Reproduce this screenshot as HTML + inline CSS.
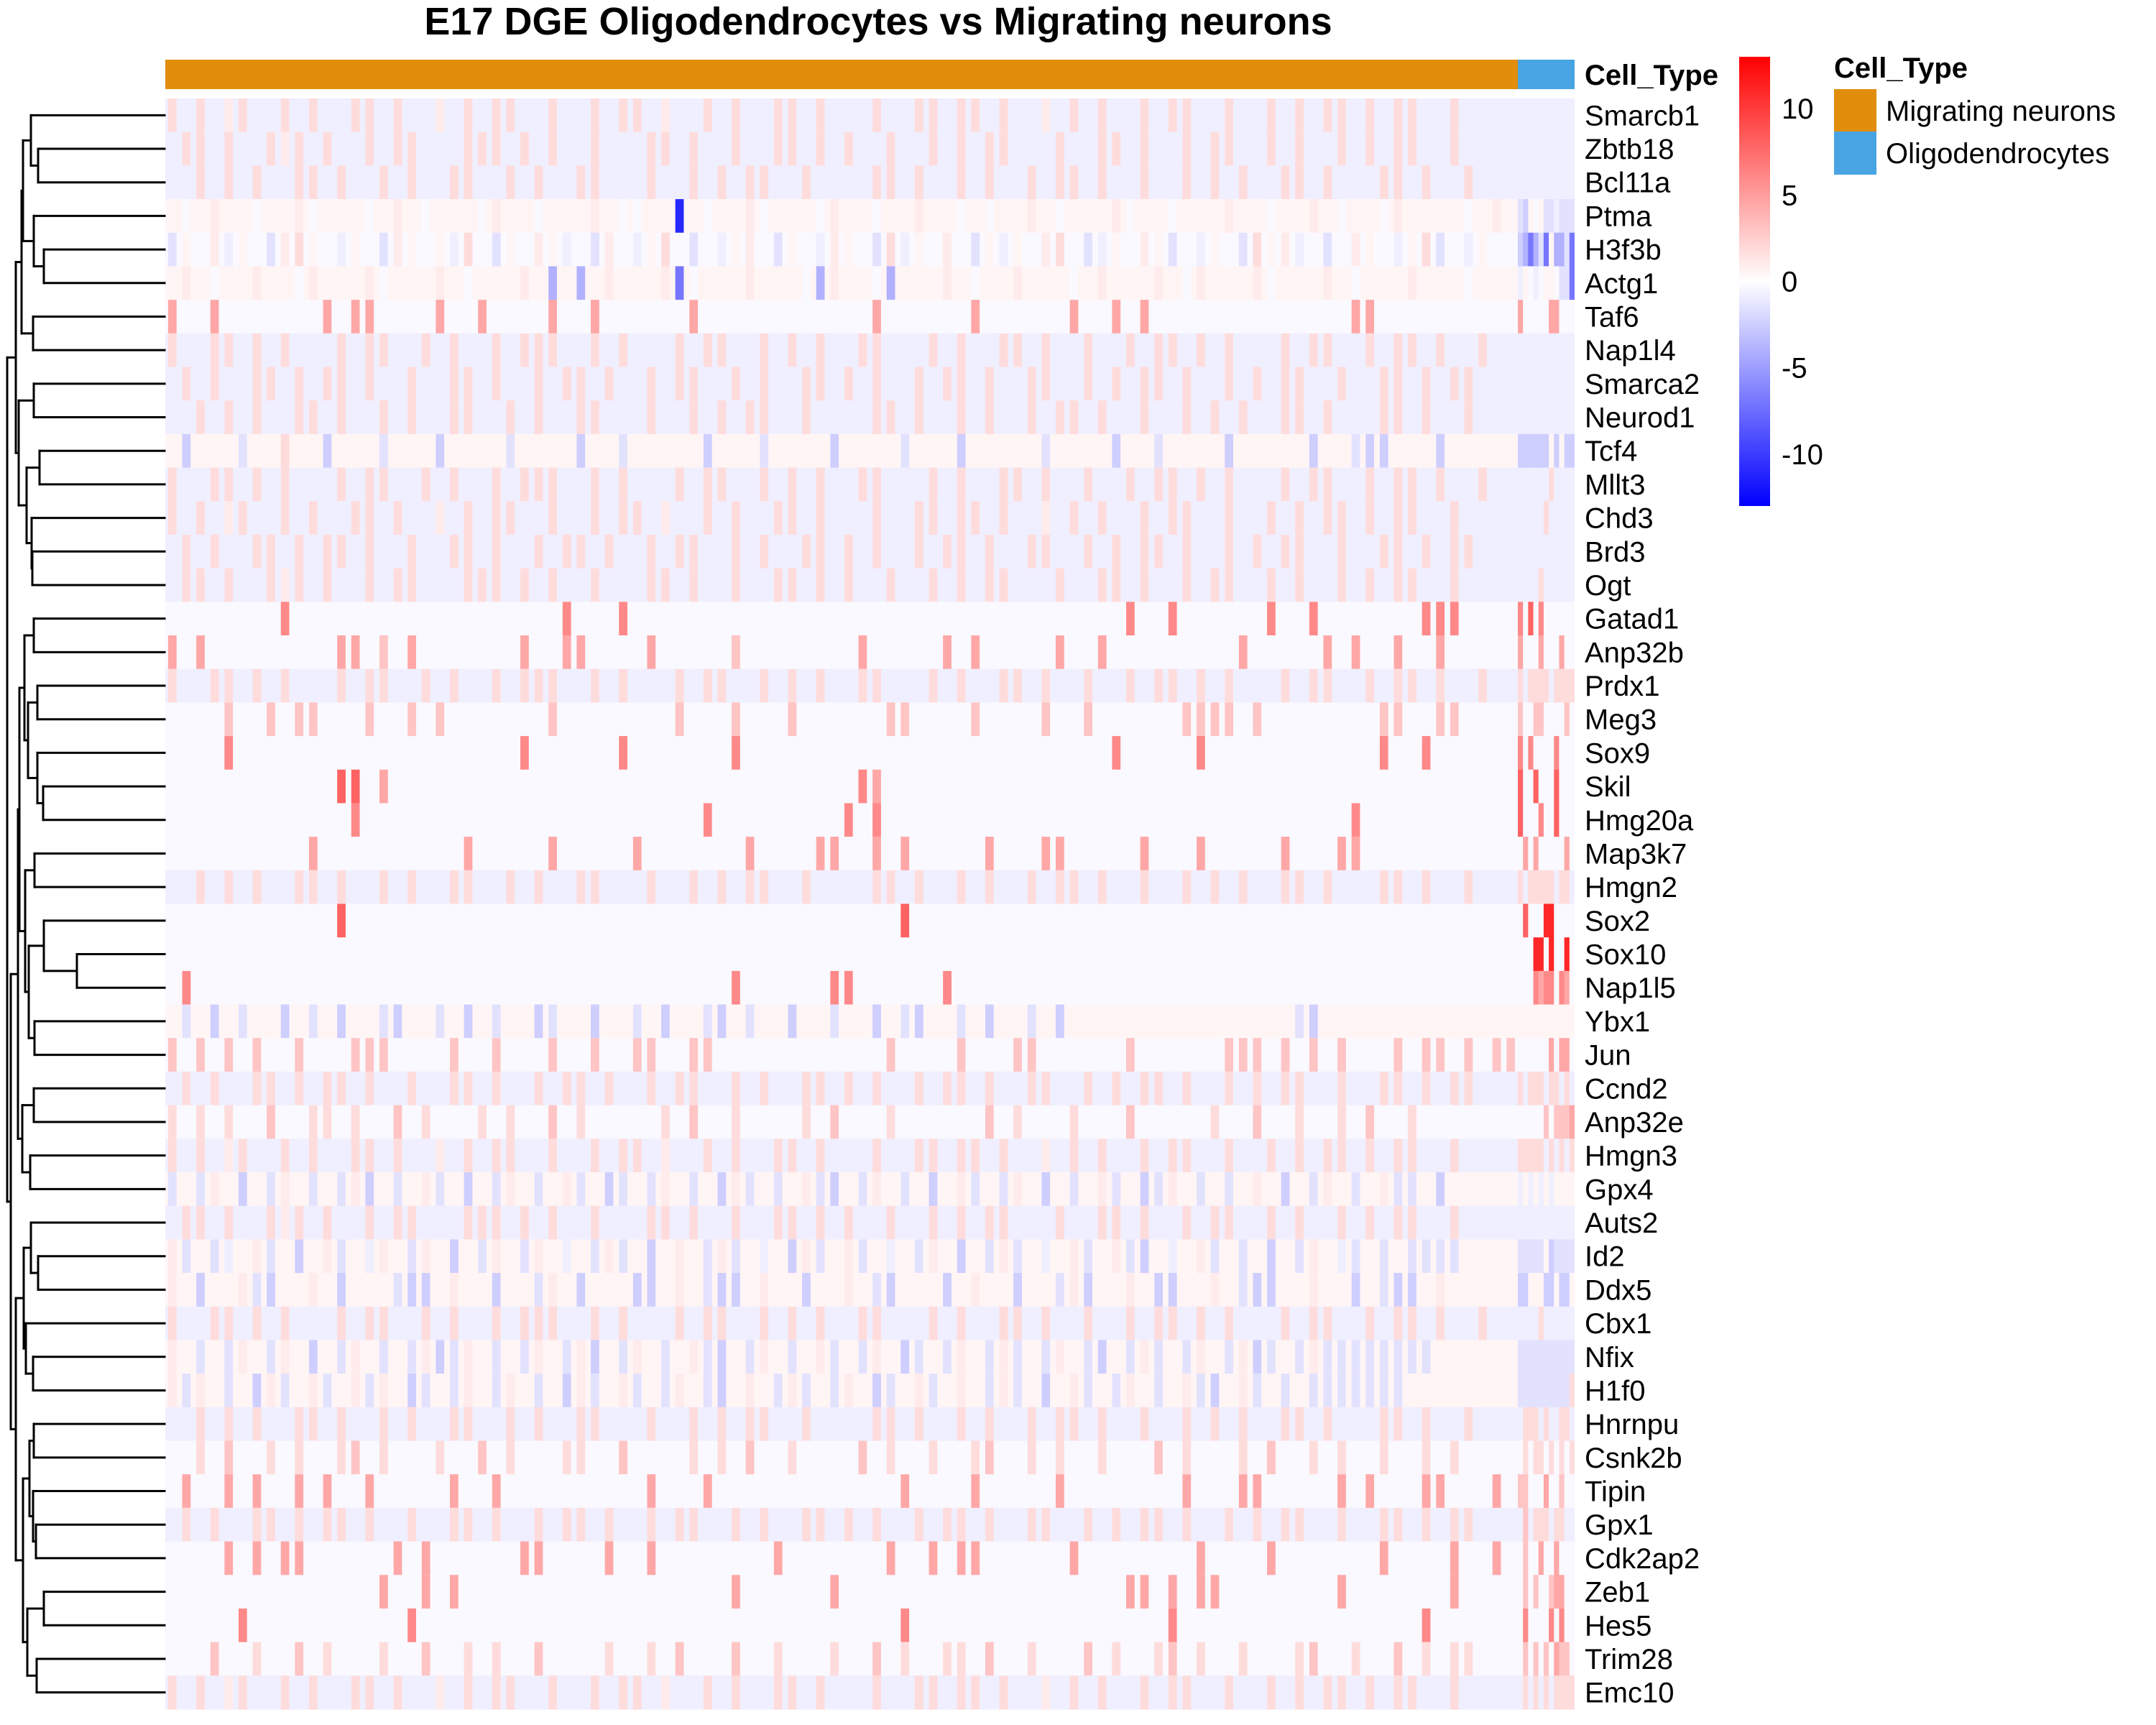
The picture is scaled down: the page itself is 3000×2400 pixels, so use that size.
<!DOCTYPE html>
<html><head><meta charset="utf-8">
<style>
html,body{margin:0;padding:0;background:#fff;}
svg{display:block;font-family:"Liberation Sans",Arial,sans-serif;}
</style></head>
<body>
<svg id="chart" width="3000" height="2400" viewBox="0 0 3000 2400" xmlns="http://www.w3.org/2000/svg">
<defs>
<linearGradient id="cbgrad" x1="0" y1="1" x2="0" y2="0">
<stop offset="0" stop-color="#0000ff"/><stop offset="0.5" stop-color="#ffffff"/><stop offset="1" stop-color="#ff0000"/>
</linearGradient>
</defs>
<text x="1222" y="48" font-size="54" font-weight="bold" text-anchor="middle">E17 DGE Oligodendrocytes vs Migrating neurons</text>
<g id="annot"></g>
<text x="2205" y="118" font-size="40" font-weight="bold">Cell_Type</text>
<g id="cells"></g>
<g id="labels"></g>
<g id="dendro"></g>
<rect x="2420" y="79" width="43" height="625" fill="url(#cbgrad)"/>
<g id="cbticks"></g>
<text x="2552" y="108" font-size="40" font-weight="bold">Cell_Type</text>
<rect x="2552" y="124" width="59" height="59" fill="#E08E0B"/>
<text x="2624" y="168" font-size="40">Migrating neurons</text>
<rect x="2552" y="183" width="59" height="60" fill="#48A4E2"/>
<text x="2624" y="227" font-size="40">Oligodendrocytes</text>
</svg>
<script>
const genes = ["Smarcb1","Zbtb18","Bcl11a","Ptma","H3f3b","Actg1","Taf6","Nap1l4","Smarca2","Neurod1","Tcf4","Mllt3","Chd3","Brd3","Ogt","Gatad1","Anp32b","Prdx1","Meg3","Sox9","Skil","Hmg20a","Map3k7","Hmgn2","Sox2","Sox10","Nap1l5","Ybx1","Jun","Ccnd2","Anp32e","Hmgn3","Gpx4","Auts2","Id2","Ddx5","Cbx1","Nfix","H1f0","Hnrnpu","Csnk2b","Tipin","Gpx1","Cdk2ap2","Zeb1","Hes5","Trim28","Emc10"];
const levelChars = "abcdefghijklmno";
const levelValues = [-11,-7,-4,-2.5,-1.5,-0.8,-0.3,0.5,1,1.8,3,4.5,6,8,11];
const colorTicks = [10,5,0,-5,-10];
const nNeuron = 96;
const nOligo = 11;
const rowBase = "fffhghgfffhffffggfgggggfggghgfgfhfhhfhhfggfggggf";
const nA="j.j.ij..j.j..jj.j..i.j.jj..j..j.jj.i..j.j..jj.j...j..jj.jj.j..i.j.j..j.jj..j..j.j.jj.j.jj..j....";
const nB=".jj.j..jij.j..j.jj...jjj.j.j..j...jj.j..j..jj.j.j..j..j.j.jj...j..jj.j..j.jj..j.j..j.j.jj..j.....";
const nC="..j.j.j..jj.j..j.j..jj..j.j..jj...j..j.j.jj..j....jj.j..j.j..j.jj.j..j..j.j.j..jj.j...jj.j..j....";
const nD="j..jj.j.j...j.jj..j.j..j.jjj..j.j...j.jj..j.j.j..jj...j.j..jj.j..j..j.jj.j.j...j.jj..j.jj.j..j...";
const nE=".j.j..jj.j.jj.j..j..jj.j..j.jj.j..j.jj..j.j..jj.j.j..j.jj.j..jj..j.j.jj.j..j.j.jj..j..jj.j.jj...j";
const rowNoise = [nA,nB,nC,
"hghih.ghhig.hhghihg.hhgihhg.hhihgghhhhghhigh.hgihhg.hihhg.ghhihg.hhighhgh.hihhg.hihghhgih.hhghih",
"ehgifhgeijhgfhgeihghfjgehgihfgeigfhjgegfhigehgfihgejfhgigehfhgijgefhgihegfhgejhifgegihgfhjegfhg",
"hihghhihhgihhhighhhihghhhihhhghihhhihghhhihhhghihhgihhhihghhihhhghihhhihgihhhighhhihghhhihhhghhh",
"",nD,nE,nC,
"hdhhhehhjhhdhhhehhhdhhhhehhhhdhhehhhhhdhhhehhhhdhhhhehhhdhhhhhehhhhdhhehhhhdhhhhhdhheddhhhdhhhh",
nD,nA,nE,nB,"","",nD,"","","","","",nC,"","","",
"hehdhehhdhehdhhedhhehdhehhdehhdhhehdhhedhehhdhhehhdhedhhehdhhehdhhhhhhhhhhhhhhhhedhhhhhhhhh",
"",nE,
"j.j.j..k..jj.j..k.j...j.j..k.j.....j.k..j....j.k...j......k.j...j...k.....j..k..j..j.k..j......",
nA,
"eheihdheiheheidhehiehdheihehiehdeheihehdiehehiedheihehdhieheihdhehiehdeihehehihdheihehieehdhh",
nB,
"iehefhiehdhiehfiheihdheiheihfheiehdhiheiehfhdiehiehfheihdheiehfhiehiedhfhiehehdheihfeheheeee",
"ihdhhiedhhihdhhheddhihhdhheihdhhhddhiheddhihhdhhihedhhhdhihhdhheidhhihddhhiheddhhihhdheddhih",
nD,
"iheheiheihdheiheheideiheheiheidheihehiedheihehieheihdeheiheieheihedheieheiheideheieeeeeeee",
"ieihehdiehiehieihdeheiheihehdiehieheihedhiheieheihdehiehiheiehdhieheihehiedhieheheeeeeee",
nC,
"..j.k..j.j..jk.j...j..k.j...jj..k....j.j.k..j....k.j..j..jk..j.j..j...k.j...j.k..j.j..j..j.j....",
"",nE,"","","",
"...k..j..k.j...j..k..j.j..k....j..j.k...k..j...j..k.j..jj.k..j...k.j..jk.j..j...jk..j..k.j.jj...",
nA];
const rowHits = ["","","","36a","","27c 29c 36b 46c 51c",
"0l 3l 11l 13l 14l 19l 22l 27l 30l 37l 50l 57l 64l 67l 69l 84l 85l",
"","","","","","","","",
"8m 28m 32m 68m 71m 78m 81m 89m 90m 91m",
"0l 2l 12l 13l 15k 17l 25l 28l 29l 34l 40k 49l 55l 57l 63l 66l 76l 82l 84l 87l 90l",
"",
"4k 7k 9k 10k 14k 17k 19k 27k 36k 40k 44k 51k 52k 57k 62k 65k 72k 73k 74k 75k 77k 86k 87k 90k 91k",
"4m 25m 32m 40m 67m 73m 86m 89m",
"12n 13n 15l 49m 50l",
"13m 38m 48m 50m 84m",
"10l 21l 27l 33l 41l 46l 47l 50l 52l 58l 62l 63l 69l 73l 79l 83l 84l",
"","12n 52n","","1m 40m 47m 48m 55m","",
"0k 2k 4k 6k 9k 13k 14k 15k 20k 23k 27k 30k 33k 34k 37k 38k 51k 56k 60k 61k 68k 75k 76k 77k 79k 81k 83k 87k 89k 90k 92k 94k 95k",
"","","","","","","","","","","","",
"1l 4l 6l 9l 11l 14l 20l 23l 34l 38l 52l 57l 63l 72l 76l 77l 83l 85l 89l 90l 94l",
"",
"4l 6l 8l 9l 16l 18l 25l 26l 31l 34l 43l 51l 54l 56l 57l 64l 73l 78l 86l 91l 94l",
"15l 18l 20l 40l 47l 68l 69l 71l 73l 74l 83l 91l",
"5m 17m 52m 71m 89m",
"",""];
const oligoVals = ["fffffffffff","fffffffffff","fffffffffff","edhgheefeee","dcbcebhcceb","fhgfghhgeeb","lgggggllggg","fffffffffff","fffffffffff","fffffffffff","ddddddhdhdd","ffffffjffff","fffffjfffff","fffffffffff","ffffjffffff","mgngmgggggg","lggglggglgg","jfjjjjfjjjj","kggkkggggkg","mgmggggmggg","nggngggnggg","ngggmggnggg","glglggggglg","jfjjjjjfjjf","gngggoogggg","gggoogoggog","gggmlmmgmlg","hhhhhhhhhhh","gggggglgllg","jfjjjfjjfjf","gggggkgkkkl","jjjjjfjfjfj","fhfhfhfhhhh","fffffffffff","eeeeehdeeee","ddhhhddhddh","ffffjffffff","eeeeeeeeeee","eeeeeeeeeej","fjjjfjffjjf","gjgjjgjgjgj","kkggglggkgg","fkfjjjfjjff","gkgglgglggg","gkgkggkllgg","gmggggmgmgg","gkgkgkglkkg","fjfjfjfjjjj"];
const dendroTree = [10,
  [22,
    [30,[32,[43,0,[53,1,2]],[47,3,[61,4,5]]],[46,6,7]],
    [26,[47,8,9],[37,[55,10,11],[44,12,[45,13,14]]]]],
  [15,
    [25,
      [27,[34,[47,15,16],[39,[52,17,18],[52,19,[60,20,21]]]],
          [35,[48,22,23],[40,[61,24,[107,25,26]],[48,27,28]]]],
      [31,[47,29,30],[42,31,32]]],
    [22,
      [33,[43,33,[53,34,35]],[36,36,[46,37,38]]],
      [32,[41,[47,39,40],[46,41,[50,42,43]]],[38,[61,44,45],[51,46,47]]]]]];

const NS="http://www.w3.org/2000/svg";
const X0=230, XO=2112, X1=2191, Y0=137, RH=(2378-137)/48;
const CB_TOP=79, CB_BOT=704, VMAX=13;
function vOf(ch){const i=levelChars.indexOf(ch);return i<0?0:levelValues[i];}
function color(v){
  v=Math.max(-VMAX,Math.min(VMAX,v));
  if(v>=0){const c=Math.round(255*(1-v/VMAX));return `rgb(255,${c},${c})`;}
  const c=Math.round(255*(1+v/VMAX));return `rgb(${c},${c},255)`;
}
function xNeuron(j){return X0+(XO-X0)*j/nNeuron;}
function xOligo(j){return XO+(X1-XO)*j/nOligo;}
function yRow(i){return Y0+RH*i;}
function cbY(v){return CB_TOP+(VMAX-v)/(2*VMAX)*(CB_BOT-CB_TOP);}

const annot=document.getElementById('annot');
[[X0,XO,'#E08E0B','annotation-migrating-neurons'],[XO,X1,'#48A4E2','annotation-oligodendrocytes']].forEach(a=>{
  const r=document.createElementNS(NS,'rect');
  r.setAttribute('x',a[0]);r.setAttribute('y',83);r.setAttribute('width',a[1]-a[0]);r.setAttribute('height',41);r.setAttribute('fill',a[2]);
  
  
  annot.appendChild(r);
});

const cells=document.getElementById('cells');
const labels=document.getElementById('labels');
genes.forEach((g,i)=>{
  const base=rowBase[i];
  const baseV=vOf(base);
  const vals=[];
  const noise=rowNoise[i]||"";
  for(let j=0;j<nNeuron;j++){
    const ch=(j<noise.length&&noise[j]!=='.')?noise[j]:base;
    vals.push(vOf(ch));
  }
  (rowHits[i]||"").split(' ').filter(s=>s).forEach(h=>{
    const c=parseInt(h,10), ch=h.replace(/[0-9]/g,'');
    if(c>=0&&c<nNeuron) vals[c]=vOf(ch);
  });
  const y=yRow(i);
  const bg=document.createElementNS(NS,'rect');
  bg.setAttribute('x',X0);bg.setAttribute('y',y.toFixed(2));
  bg.setAttribute('width',XO-X0);bg.setAttribute('height',(RH+0.6).toFixed(2));
  bg.setAttribute('fill',color(baseV));
  
  
  cells.appendChild(bg);
  for(let j=0;j<nNeuron;j++){
    if(vals[j]===baseV) continue;
    const w=xNeuron(j+1)-xNeuron(j);
    const r=document.createElementNS(NS,'rect');
    r.setAttribute('x',(xNeuron(j)+w*0.2).toFixed(2));r.setAttribute('y',y.toFixed(2));
    r.setAttribute('width',(w*0.6).toFixed(2));r.setAttribute('height',(RH+0.6).toFixed(2));
    r.setAttribute('fill',color(vals[j]));
    
    
    cells.appendChild(r);
  }
  const ov=oligoVals[i];
  for(let j=0;j<nOligo;j++){
    const r=document.createElementNS(NS,'rect');
    r.setAttribute('x',xOligo(j).toFixed(2));r.setAttribute('y',y.toFixed(2));
    r.setAttribute('width',(xOligo(j+1)-xOligo(j)+(j<nOligo-1?0.6:0)).toFixed(2));r.setAttribute('height',(RH+0.6).toFixed(2));
    r.setAttribute('fill',color(vOf(ov[j]||'g')));
    
    
    cells.appendChild(r);
  }
  const t=document.createElementNS(NS,'text');
  t.setAttribute('x',2205);t.setAttribute('y',(y+RH/2+14).toFixed(1));t.setAttribute('font-size',40);
  t.textContent=g;
  
  
  labels.appendChild(t);
});

const dendro=document.getElementById('dendro');
const LEAF_X=229;
function line(x1,y1,x2,y2){
  const l=document.createElementNS(NS,'line');
  l.setAttribute('x1',x1);l.setAttribute('y1',y1);l.setAttribute('x2',x2);l.setAttribute('y2',y2);
  l.setAttribute('stroke','#000');l.setAttribute('stroke-width',3);l.setAttribute('stroke-linecap','square');
  
  
  dendro.appendChild(l);
}
function draw(node){
  if(typeof node==='number') return {x:LEAF_X,y:yRow(node)+RH/2};
  const h=node[0], a=draw(node[1]), b=draw(node[2]);
  line(h,a.y,a.x,a.y);line(h,b.y,b.x,b.y);line(h,a.y,h,b.y);
  return {x:h,y:(a.y+b.y)/2};
}
draw(dendroTree);

const cbt=document.getElementById('cbticks');
colorTicks.forEach(v=>{
  const t=document.createElementNS(NS,'text');
  t.setAttribute('x',2479);t.setAttribute('y',(cbY(v)+14).toFixed(1));t.setAttribute('font-size',40);
  t.textContent=String(v);
  
  
  cbt.appendChild(t);
});
</script>
</body></html>
